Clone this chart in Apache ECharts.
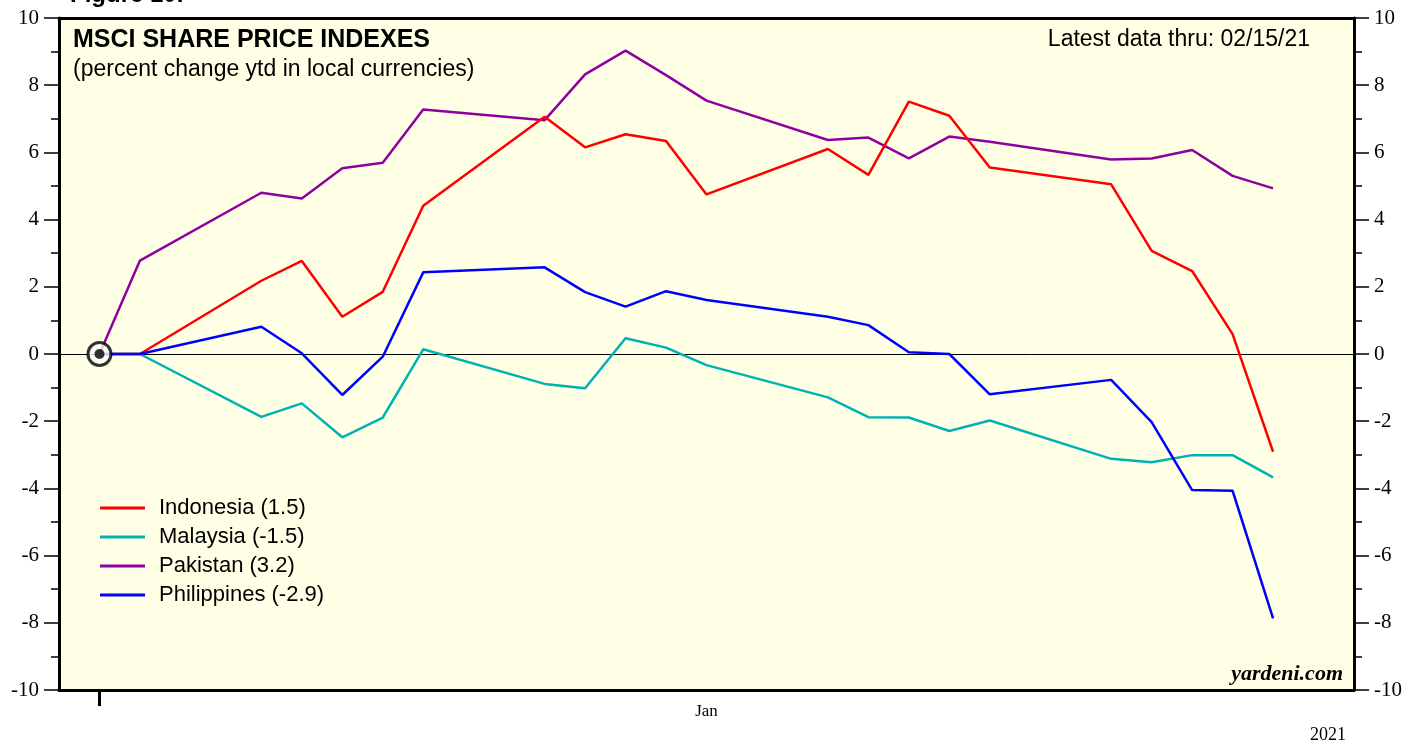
<!DOCTYPE html>
<html>
<head>
<meta charset="utf-8">
<title>MSCI Share Price Indexes</title>
<script src="https://cdn.jsdelivr.net/npm/echarts@6/dist/echarts.min.js"></script>
<style>
  html, body { margin: 0; padding: 0; background: #fff; }
  #chart { width: 1419px; height: 746px; }
</style>
</head>
<body>
<div id="chart"></div>
<script>
// trading days, Dec 31 2020 .. Jan 29 2021
const dates = [
  "2020-12-31", "2021-01-01", "2021-01-04", "2021-01-05", "2021-01-06", "2021-01-07", "2021-01-08",
  "2021-01-11", "2021-01-12", "2021-01-13", "2021-01-14", "2021-01-15",
  "2021-01-18", "2021-01-19", "2021-01-20", "2021-01-21", "2021-01-22",
  "2021-01-25", "2021-01-26", "2021-01-27", "2021-01-28", "2021-01-29"
];
const indonesia = [0, 0, 2.18, 2.77, 1.11, 1.85, 4.41, 7.06, 6.15, 6.54, 6.34, 4.75, 6.10, 5.33, 7.51, 7.09, 5.55, 5.05, 3.07, 2.47, 0.59, -2.91];
const malaysia = [0, 0, -1.87, -1.47, -2.48, -1.89, 0.14, -0.89, -1.02, 0.47, 0.19, -0.33, -1.29, -1.88, -1.89, -2.29, -1.98, -3.12, -3.22, -3.01, -3.01, -3.67];
const pakistan = [0, 2.78, 4.80, 4.63, 5.53, 5.69, 7.28, 6.96, 8.32, 9.03, 8.30, 7.54, 6.37, 6.44, 5.82, 6.47, 6.32, 5.79, 5.82, 6.07, 5.30, 4.93];
const philippines = [0, 0, 0.81, 0.02, -1.22, -0.08, 2.43, 2.58, 1.84, 1.41, 1.87, 1.61, 1.11, 0.86, 0.05, 0.0, -1.20, -0.77, -2.03, -4.05, -4.07, -7.87];
const seriesNames = ["Indonesia (1.5)", "Malaysia (-1.5)", "Pakistan (3.2)", "Philippines (-2.9)"];
const seriesColors = ["#ff0000", "#00b2b2", "#9000a0", "#0000ff"];
const yTicks = [-10, 10, 2]; // min, max, step

// days counted from Dec 31 2020
const base = Date.parse("2020-12-31");
const dayIdx = dates.map(d => (Date.parse(d) - base) / 86400000);

function pairs(vals) {
  return vals.map((v, i) => [dayIdx[i], v]);
}

let myChart = echarts.init(document.getElementById("chart"));
const serif = "Liberation Serif, Times New Roman, serif";
const sans = "Liberation Sans, Arial, sans-serif";

let yAxisBase = {
  type: "value",
  min: yTicks[0],
  max: yTicks[1],
  interval: yTicks[2],
  axisLine: { show: true, onZero: false, lineStyle: { color: "#000", width: 3 } },
  axisTick: { show: true, inside: false, length: 15, lineStyle: { color: "#000", width: 1.5 } },
  minorTick: { show: true, splitNumber: 2, length: 8, lineStyle: { color: "#000", width: 1.5 } },
  axisLabel: { color: "#000", fontFamily: serif, fontSize: 21, margin: 20 },
  splitLine: { show: false }
};

let option = {
  animation: false,
  backgroundColor: "#ffffff",
  title: [
    { text: "Figure 10.", left: 70, top: -17, padding: 0, textStyle: { fontFamily: sans, fontWeight: "bold", fontSize: 24, color: "#000" } },
    { text: "MSCI SHARE PRICE INDEXES", left: 73, top: 28, padding: 0, textStyle: { fontFamily: sans, fontWeight: "bold", fontSize: 25, color: "#000" } },
    { text: "(percent change ytd in local currencies)", left: 73, top: 58, padding: 0, textStyle: { fontFamily: sans, fontWeight: "normal", fontSize: 23, color: "#000" } },
    { text: "Latest data thru: 02/15/21", right: 109, top: 28, padding: 0, textStyle: { fontFamily: sans, fontWeight: "normal", fontSize: 23, color: "#000" } },
    { text: "yardeni.com", right: 76, top: 663, padding: 0, textStyle: { fontFamily: serif, fontStyle: "italic", fontWeight: "bold", fontSize: 22, color: "#000" } },
    { text: "2021", left: 1310, top: 726, padding: 0, textStyle: { fontFamily: serif, fontWeight: "normal", fontSize: 18, color: "#000" } }
  ],
  legend: {
    orient: "vertical",
    left: 100,
    top: 497,
    padding: 0,
    itemWidth: 45,
    itemHeight: 3,
    itemGap: 7,
    icon: "rect",
    data: seriesNames,
    textStyle: { fontFamily: sans, fontSize: 22, color: "#000", padding: [0, 0, 0, 9], lineHeight: 22 }
  },
  grid: {
    left: 59,
    right: 65,
    top: 18,
    bottom: 56,
    show: true,
    backgroundColor: "#ffffe5",
    borderWidth: 0
  },
  xAxis: [
    {
      type: "value",
      min: -1,
      max: 31,
      axisLine: { show: true, onZero: false, lineStyle: { color: "#000", width: 3 } },
      axisTick: { show: true, customValues: [0], length: 16, lineStyle: { color: "#000", width: 3 } },
      axisLabel: {
        show: true,
        customValues: [15],
        formatter: () => "Jan",
        color: "#000",
        fontFamily: serif,
        fontSize: 17,
        margin: 13
      },
      splitLine: { show: false }
    },
    {
      type: "value",
      position: "top",
      min: -1,
      max: 31,
      axisLine: { show: true, onZero: false, lineStyle: { color: "#000", width: 3 } },
      axisTick: { show: false },
      axisLabel: { show: false },
      splitLine: { show: false }
    }
  ],
  yAxis: [
    Object.assign({}, yAxisBase, { position: "left" }),
    Object.assign({}, yAxisBase, { position: "right" })
  ],
  series: [
    {
      name: seriesNames[0],
      type: "line",
      data: pairs(indonesia),
      symbol: "none",
      lineStyle: { width: 2.5, color: seriesColors[0] },
      itemStyle: { color: seriesColors[0] },
      z: 4,
      markLine: {
        silent: true,
        symbol: "none",
        label: { show: false },
        lineStyle: { color: "#000", width: 1, type: "solid" },
        data: [{ yAxis: 0 }],
        z: 1
      }
    },
    {
      name: seriesNames[1],
      type: "line",
      data: pairs(malaysia),
      symbol: "none",
      lineStyle: { width: 2.5, color: seriesColors[1] },
      itemStyle: { color: seriesColors[1] },
      z: 3
    },
    {
      name: seriesNames[2],
      type: "line",
      data: pairs(pakistan),
      symbol: "none",
      lineStyle: { width: 2.5, color: seriesColors[2] },
      itemStyle: { color: seriesColors[2] },
      z: 3
    },
    {
      name: seriesNames[3],
      type: "line",
      data: pairs(philippines),
      symbol: "none",
      lineStyle: { width: 2.5, color: seriesColors[3] },
      itemStyle: { color: seriesColors[3] },
      z: 5
    },
    // start-of-year marker
    {
      name: "start",
      type: "scatter",
      data: [[dayIdx[0], 0]],
      symbol: "circle",
      symbolSize: 23,
      itemStyle: { color: "#ffffff", borderColor: "#000", borderWidth: 3 },
      silent: true,
      z: 6
    },
    {
      name: "startDot",
      type: "scatter",
      data: [[dayIdx[0], 0]],
      symbol: "circle",
      symbolSize: 10,
      itemStyle: { color: "#000" },
      silent: true,
      z: 7
    }
  ]
};

myChart.setOption(option);
window.addEventListener("resize", () => {
  myChart.resize();
});
</script>
</body>
</html>
